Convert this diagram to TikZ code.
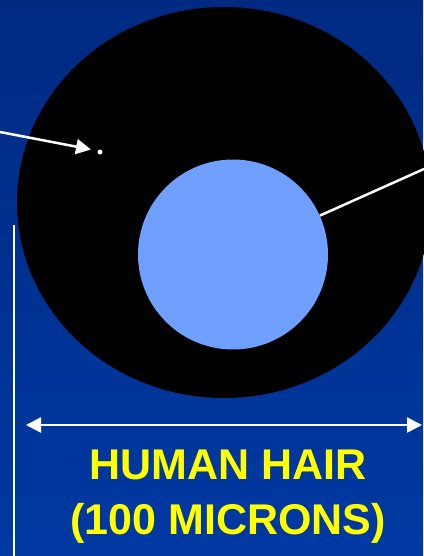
\documentclass[tikz,border=0pt]{standalone}
\usepackage{fontspec}
\setmainfont{Liberation Sans}
\usetikzlibrary{shapes.geometric,arrows.meta}
\definecolor{bgtop}{HTML}{002A82}
\definecolor{bgbot}{HTML}{0039A2}
\definecolor{corecol}{HTML}{6F9FFF}
\definecolor{labelcol}{HTML}{FFFF00}
\tikzset{
  wline/.style={draw=white, line width=2.5pt},
  labeltext/.style={text=labelcol, font=\fontsize{43}{50}\selectfont\bfseries, inner sep=0pt, anchor=base},
}
\begin{document}
\begin{tikzpicture}[x=1pt,y=-1pt]
\useasboundingbox (0,0) rectangle (423,556);
\shade[top color=bgtop, bottom color=bgbot] (0,0) rectangle (423,556);
\node[ellipse, fill=black, draw=none, minimum width=414pt, minimum height=391pt, inner sep=0pt] (hair) at (224,202.5) {};
\node[circle, fill=corecol, draw=none, minimum size=190pt, inner sep=0pt] (core) at (233,254.5) {};
\node[circle, fill=white, draw=none, minimum size=5pt, inner sep=0pt] (dot) at (100,152) {};
\coordinate (a0) at (0,132);
\coordinate (atip) at (91,149.5);
\draw[wline, -{Triangle[length=15pt,width=15pt]}] (a0) -- (atip);
\coordinate (r1) at (424,169);
\draw[wline] (r1) -- (core);
\coordinate (v0) at (14,225);
\coordinate (v1) at (14,556);
\draw[draw=white, line width=2pt] (v0) -- (v1);
\coordinate (d0) at (26,425);
\coordinate (d1) at (422,425);
\draw[wline, {Triangle[length=15pt,width=15pt]}-{Triangle[length=15pt,width=15pt]}] (d0) -- (d1);
\node[labeltext] (l1) at (228,479) {HUMAN HAIR};
\node[labeltext] (l2) at (228,534) {(100 MICRONS)};
\end{tikzpicture}
\end{document}
